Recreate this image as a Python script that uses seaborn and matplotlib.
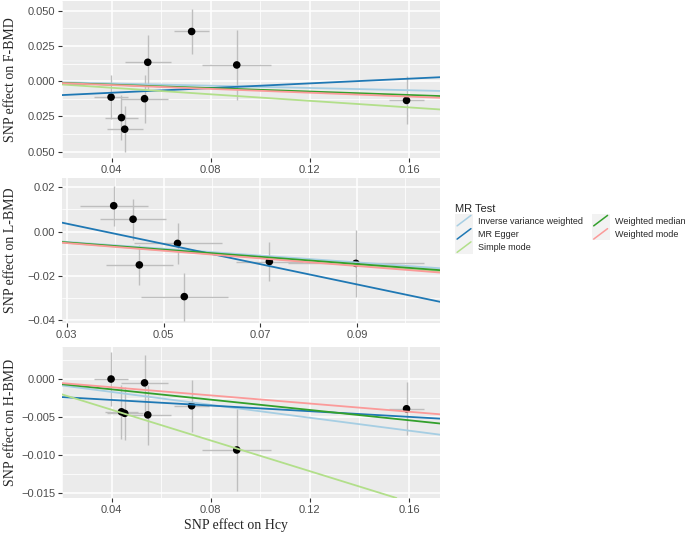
import numpy as np
import matplotlib
matplotlib.use("Agg")
import matplotlib.pyplot as plt
import seaborn as sns
import pandas as pd
from matplotlib.lines import Line2D
from matplotlib.patches import Rectangle
from matplotlib.legend_handler import HandlerLine2D

# SNP effects on Hcy (shared by F-BMD and H-BMD panels)
hcy_b = [0.0398, 0.0440, 0.0453, 0.0533, 0.0546, 0.0723, 0.0905, 0.1590]
hcy_se = [0.0070, 0.0068, 0.0072, 0.0093, 0.0092, 0.0070, 0.0140, 0.0070]

# F-BMD
fbmd_b = [-0.0113, -0.0258, -0.0340, -0.0124, 0.0134, 0.0352, 0.0115, -0.0136]
fbmd_se = [0.0158, 0.0160, 0.0163, 0.0170, 0.0190, 0.0156, 0.0250, 0.0170]

# L-BMD (7 SNPs)
lbmd_hcy_b = [0.0397, 0.0437, 0.0450, 0.0529, 0.0543, 0.0719, 0.0898]
lbmd_hcy_se = [0.0070, 0.0069, 0.0070, 0.0091, 0.0090, 0.0070, 0.0140]
lbmd_b = [0.0117, 0.0056, -0.0150, -0.0053, -0.0293, -0.0135, -0.0143]
lbmd_se = [0.0090, 0.0093, 0.0090, 0.0094, 0.0108, 0.0089, 0.0150]

# H-BMD
hbmd_b = [0.0000, -0.0043, -0.0045, -0.0005, -0.0047, -0.0035, -0.0093, -0.0039]
hbmd_se = [0.0036, 0.0035, 0.0035, 0.0037, 0.0039, 0.0034, 0.0054, 0.0035]

# MR estimates: slope and intercept per method
methods = ["Inverse variance weighted", "MR Egger", "Simple mode",
           "Weighted median", "Weighted mode"]
fbmd_slope = [-0.040, 0.083, -0.116, -0.061, -0.068]
fbmd_icpt = [0.0, -0.0115, 0.0, 0.0, 0.0]
lbmd_slope = [-0.154, -0.4565, -0.168, -0.162, -0.172]
lbmd_icpt = [0.0, 0.0173, 0.0, 0.0, 0.0]
hbmd_slope = [-0.0423, -0.0185, -0.1007, -0.0338, -0.0268]
hbmd_icpt = [0.0, -0.0020, 0.0, 0.0, 0.0]

sns.set_theme(style="darkgrid")
plt.rcParams['font.family'] = ['Liberation Sans', 'DejaVu Sans']
colors = sns.color_palette("Paired", 5)

fig = plt.figure(figsize=(6.85, 5.35), dpi=100)
W, H = 685, 535


def make_ax(top, bottom):
    return fig.add_axes([62 / W, 1 - bottom / H, 378 / W, (bottom - top) / H])


def draw_panel(ax, x, xse, y, yse, slopes, icpts):
    df = pd.DataFrame({"x": x, "y": y})
    ax.errorbar(x, y, yerr=yse, fmt="none", ecolor="#bebebe", elinewidth=1.0, zorder=2)
    ax.errorbar(x, y, xerr=xse, fmt="none", ecolor="#bebebe", elinewidth=1.0, zorder=2)
    sns.scatterplot(data=df, x="x", y="y", ax=ax, color="black", s=30,
                    edgecolor="none", zorder=3, legend=False)
    for m, s, b, c in zip(methods, slopes, icpts, colors):
        ax.axline((0, b), slope=s, color=c, lw=1.3, zorder=4, label=m)


def style(ax, xlim, ylim, xmaj, xmin, ymaj, ymin, ylabels, xlabels):
    ax.set_facecolor("#ebebeb")
    ax.set_xlim(xlim)
    ax.set_ylim(ylim)
    ax.set_xticks(xmaj)
    ax.set_xticks(xmin, minor=True)
    ax.set_yticks(ymaj)
    ax.set_yticks(ymin, minor=True)
    ax.set_yticklabels(ylabels)
    ax.set_xticklabels(xlabels)
    ax.grid(which="major", color="white", lw=1.1)
    ax.grid(which="minor", color="white", lw=0.55)
    ax.tick_params(which="major", length=3, width=0.8, color="#333333",
                   labelsize=8, labelcolor="#4d4d4d", pad=2,
                   bottom=True, left=True)
    ax.tick_params(which="minor", length=0)
    for sp in ax.spines.values():
        sp.set_visible(False)
    ax.set_axisbelow(True)


serif = dict(family="Liberation Serif", fontsize=10)

ax1 = make_ax(1, 158)
draw_panel(ax1, hcy_b, hcy_se, fbmd_b, fbmd_se, fbmd_slope, fbmd_icpt)
style(ax1, (0.0258, 0.1725), (-0.0544, 0.0568),
      [0.04, 0.08, 0.12, 0.16], [0.02, 0.06, 0.10, 0.14],
      [0.05, 0.025, 0.0, -0.025, -0.05], [0.0375, 0.0125, -0.0125, -0.0375],
      ["0.050", "0.025", "0.000", "0.025", "0.050"],
      ["0.04", "0.08", "0.12", "0.16"])
ax1.set_xlabel("")
ax1.set_ylabel("SNP effect on F-BMD", **serif)

ax2 = make_ax(178, 323)
draw_panel(ax2, lbmd_hcy_b, lbmd_hcy_se, lbmd_b, lbmd_se, lbmd_slope, lbmd_icpt)
style(ax2, (0.029, 0.1072), (-0.0412, 0.0242),
      [0.03, 0.05, 0.07, 0.09], [0.04, 0.06, 0.08, 0.10],
      [0.02, 0.0, -0.02, -0.04], [0.01, -0.01, -0.03],
      ["0.02", "0.00", "\u22120.02", "\u22120.04"],
      ["0.03", "0.05", "0.07", "0.09"])
ax2.set_xlabel("")
ax2.set_ylabel("SNP effect on L-BMD", **serif)

ax3 = make_ax(347, 498)
draw_panel(ax3, hcy_b, hcy_se, hbmd_b, hbmd_se, hbmd_slope, hbmd_icpt)
style(ax3, (0.0258, 0.1725), (-0.0156, 0.0042),
      [0.04, 0.08, 0.12, 0.16], [0.02, 0.06, 0.10, 0.14],
      [0.0, -0.005, -0.01, -0.015], [0.0025, -0.0025, -0.0075, -0.0125],
      ["0.000", "\u22120.005", "\u22120.010", "\u22120.015"],
      ["0.04", "0.08", "0.12", "0.16"])
ax3.set_xlabel("SNP effect on Hcy", **serif)
ax3.set_ylabel("SNP effect on H-BMD", **serif)
ax3.xaxis.set_label_coords((236 - 62) / 378, -0.135)

for ax in (ax1, ax2, ax3):
    ax.yaxis.set_label_coords(-0.119, 0.5)


class DiagHandler(HandlerLine2D):
    def create_artists(self, legend, orig_handle, xdescent, ydescent,
                       width, height, fontsize, trans):
        x0, y0 = -xdescent, -ydescent
        bg = Rectangle((x0, y0), width, height, facecolor="#f2f2f2",
                       edgecolor="none", transform=trans)
        ln = Line2D([x0 + 1.5, x0 + width - 1.5], [y0 + 1, y0 + height - 1],
                    color=orig_handle.get_color(), lw=1.1, transform=trans)
        return [bg, ln]


handles = [Line2D([], [], color=c, lw=1.3) for c in colors]
leg = fig.legend(handles, methods, loc="upper left",
                 bbox_to_anchor=(455 / W, 1 - 204 / H), ncol=2,
                 title="MR Test", frameon=False, fontsize=6.5,
                 title_fontsize=8, handlelength=2.0, handleheight=1.88,
                 handletextpad=0.6, columnspacing=0.9, labelspacing=0.0,
                 borderpad=0, borderaxespad=0, alignment="left",
                 handler_map={Line2D: DiagHandler()})

fig.savefig("out.png", dpi=100)
